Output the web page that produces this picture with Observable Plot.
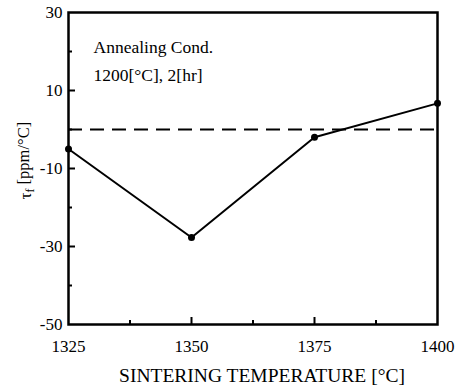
<!DOCTYPE html>
<html><head><meta charset="utf-8">
<script src="https://cdn.jsdelivr.net/npm/d3@7"></script>
<script src="https://cdn.jsdelivr.net/npm/@observablehq/plot@0.6"></script>
<style>body{margin:0;background:#fff;} svg, svg text, svg tspan {font-family: "Liberation Serif", "Times New Roman", Times, "DejaVu Serif", serif !important;}</style>
</head><body><div id="chart"></div>
<script>
const temps = [1325, 1350, 1375, 1400];
const tauf = [-5, -27.7, -2, 6.7];
const xMajor = [1325, 1350, 1375, 1400];
const xMinor = [1337.5, 1362.5, 1387.5];
const yMajor = [30, 10, -10, -30, -50];
const yMinor = [20, 0, -20, -40];
const refLine = [0];
const annot1 = ["Annealing Cond."];
const annot2 = ["1200[°C], 2[hr]"];
const xLabel = "SINTERING TEMPERATURE [°C]";
const yLabel = "τf [ppm/°C]";

const FF = "'Liberation Serif', 'Times New Roman', serif";
const W = 463, H = 392, ML = 68, MR = 26, MT = 12, MB = 68;
const FW = W - ML - MR, FH = H - MT - MB;
const data = temps.map((t, i) => ({t, v: tauf[i]}));

const chart = Plot.plot({
  width: W, height: H,
  marginLeft: ML, marginRight: MR, marginTop: MT, marginBottom: MB,
  style: {fontFamily: FF, fontSize: "16px", color: "#000", background: "#fff"},
  x: {domain: [1325, 1400]},
  y: {domain: [-50, 30]},
  marks: [
    Plot.axisX({ticks: xMajor, tickSize: 0, tickPadding: 15, label: null, fontSize: 17, tickFormat: d => String(d)}),
    Plot.axisY({ticks: yMajor, tickSize: 0, tickPadding: 6, label: null, fontSize: 17, tickFormat: d => String(d)}),
    Plot.tickX(xMajor.slice(1, 3), {x: d => d, insetTop: FH - 7, stroke: "#000", strokeWidth: 2}),
    Plot.tickX(xMinor, {x: d => d, insetTop: FH - 4, stroke: "#000", strokeWidth: 2}),
    Plot.tickY(yMajor.slice(1, 4), {y: d => d, insetRight: FW - 7, stroke: "#000", strokeWidth: 2}),
    Plot.tickY(yMinor, {y: d => d, insetRight: FW - 4, stroke: "#000", strokeWidth: 2}),
    Plot.ruleY(refLine, {stroke: "#000", strokeWidth: 2, strokeDasharray: "14,8"}),
    Plot.line(data, {x: "t", y: "v", stroke: "#000", strokeWidth: 2}),
    Plot.dot(data, {x: "t", y: "v", r: 3.5, fill: "#000"}),
    Plot.frame({stroke: "#000", strokeWidth: 2.5}),
    Plot.text(annot1, {frameAnchor: "top-left", text: d => d, dx: 25, dy: 28, textAnchor: "start", fontSize: 17.5}),
    Plot.text(annot2, {frameAnchor: "top-left", text: d => d, dx: 25, dy: 56, textAnchor: "start", fontSize: 17.5}),
    Plot.text([xLabel], {frameAnchor: "bottom", text: d => d, dx: 9, dy: 57, fontSize: 19.5}),
    Plot.text([yLabel], {frameAnchor: "left", text: d => d, dx: -43, dy: -8, rotate: -90, textAnchor: "middle", fontSize: 16.5})
  ]
});
document.getElementById("chart").appendChild(chart);
// subscript f in y label
d3.select(chart).selectAll("text").each(function() {
  if (this.textContent === yLabel) {
    const el = d3.select(this);
    el.text(null);
    el.append("tspan").text("τ");
    el.append("tspan").attr("dy", "0.3em").attr("font-size", "12px").text("f");
    el.append("tspan").attr("dy", "-0.3em").text(" [ppm/°C]");
  }
});
</script>
</body></html>
